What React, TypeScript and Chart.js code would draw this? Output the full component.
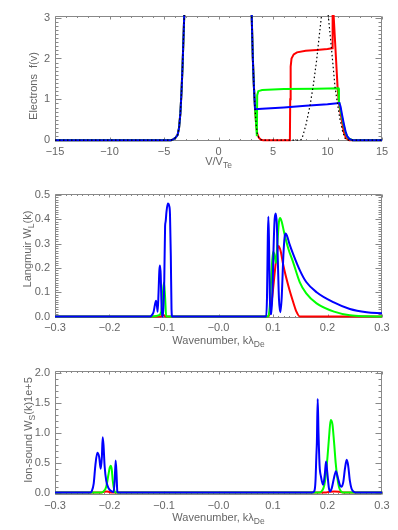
import React, { useEffect, useRef } from 'react';
import { Chart, registerables } from 'chart.js';

Chart.register(...registerables);

type Pt = [number, number];

// ---------- Panel 1: electron distribution f(v) vs V/VTe ----------
const vTicks = [-15, -10, -5, 0, 5, 10, 15];
const vTickLabels = ['−15', '−10', '−5', '0', '5', '10', '15'];
const fTicks = [0, 1, 2, 3];
const fTickLabels = ['0', '1', '2', '3'];

// Maxwellian core (shared by all curves), up to the right-hand flank
const coreF: Pt[] = [
  [-15, 0], [-4.35, 0], [-4.15, 0.02], [-3.95, 0.06], [-3.75, 0.13], [-3.62, 0.3],
  [-3.5, 0.65], [-3.4, 1.15], [-3.3, 1.8], [-3.2, 2.6], [-3.1, 3.4], [-2.9, 5.0],
  [-2.4, 9.5], [0, 20], [2.4, 9.5], [2.9, 5.0],
];
const blueBeamF: Pt[] = [
  [3.05, 3.0], [3.15, 2.0], [3.25, 1.3], [3.35, 0.76], [4, 0.77], [6, 0.8], [8, 0.84],
  [10, 0.88], [11.1, 0.91], [11.2, 0.82], [11.35, 0.6], [11.5, 0.4], [11.65, 0.22],
  [11.8, 0.1], [12.0, 0.03], [12.3, 0], [15, 0],
];
const greenBeamF: Pt[] = [
  [3.05, 3.0], [3.15, 2.0], [3.25, 1.3], [3.35, 0.8], [3.45, 0.4], [3.52, 0.1], [3.55, 1.1],
  [3.65, 1.2], [4, 1.23], [6, 1.25], [9, 1.26], [11.0, 1.27], [11.05, 0.95], [11.3, 0.6],
  [11.5, 0.35], [11.7, 0.15], [11.9, 0.05], [12.3, 0], [15, 0],
];
const redBeamF: Pt[] = [
  [3.05, 3.0], [3.15, 2.0], [3.25, 1.3], [3.35, 0.8], [3.45, 0.4], [3.55, 0.17], [3.7, 0.06],
  [3.9, 0.01], [4.1, 0], [6.55, 0], [6.58, 1.0], [6.62, 1.8], [6.7, 2.0], [6.9, 2.1],
  [7.2, 2.15], [8, 2.19], [9, 2.21], [10, 2.23], [10.42, 2.25], [10.47, 3.5], [10.93, 1.27],
  [11.05, 0.9], [11.3, 0.5], [11.5, 0.2], [11.7, 0.05], [12, 0], [15, 0],
];
const initialBeamF: Pt[] = [
  [3.05, 3.0], [3.15, 2.0], [3.25, 1.3], [3.35, 0.8], [3.45, 0.4], [3.55, 0.17], [3.7, 0.06],
  [3.9, 0.01], [4.1, 0], [7.5, 0], [7.65, 0.03], [8.0, 0.35], [8.4, 0.85], [8.7, 1.35],
  [9.0, 1.95], [9.2, 2.45], [9.45, 3.05], [9.75, 3.8], [10.07, 3.05], [10.38, 2.2],
  [10.69, 1.3], [11.0, 0.75], [11.15, 0.5], [11.4, 0.2], [11.6, 0.05], [11.8, 0], [15, 0],
];

// ---------- Panel 2: Langmuir spectrum W_L(k) ----------
const kTicks = [-0.3, -0.2, -0.1, 0, 0.1, 0.2, 0.3];
const kTickLabels = ['−0.3', '−0.2', '−0.1', '−0.0', '0.1', '0.2', '0.3'];
const wlTicks = [0, 0.1, 0.2, 0.3, 0.4, 0.5];
const wlTickLabels = ['0.0', '0.1', '0.2', '0.3', '0.4', '0.5'];

const blueWL: Pt[] = [
  [-0.3, 0], [-0.125, 0], [-0.1226, 0.005], [-0.119, 0.02], [-0.1165, 0.05], [-0.1147, 0.065],
  [-0.113, 0.045], [-0.1116, 0.02], [-0.11, 0.1], [-0.1085, 0.19], [-0.1073, 0.21],
  [-0.106, 0.17], [-0.1045, 0.04], [-0.103, 0], [-0.1015, 0], [-0.0995, 0.15], [-0.098, 0.37],
  [-0.097, 0.39], [-0.0955, 0.43], [-0.093, 0.465], [-0.0905, 0.455], [-0.089, 0.42],
  [-0.0875, 0.25], [-0.0862, 0.03], [-0.085, 0], [0.0875, 0], [0.089, 0.08], [0.0905, 0.33],
  [0.0915, 0.41], [0.0925, 0.33], [0.094, 0.1], [0.0955, 0.01], [0.097, 0.01], [0.099, 0.1],
  [0.101, 0.28], [0.103, 0.4], [0.105, 0.424], [0.107, 0.38], [0.109, 0.22], [0.111, 0.07],
  [0.1135, 0.018], [0.116, 0.08], [0.119, 0.25], [0.1215, 0.33], [0.1233, 0.342],
  [0.126, 0.33], [0.13, 0.3], [0.137, 0.257], [0.1495, 0.189], [0.161, 0.142], [0.18, 0.1],
  [0.2107, 0.059], [0.241, 0.031], [0.272, 0.018], [0.3, 0.014],
];
const greenWL: Pt[] = [
  [-0.3, 0], [-0.122, 0], [-0.11, 0.005], [-0.105, 0.02], [-0.102, 0.1], [-0.1, 0.14],
  [-0.098, 0.08], [-0.096, 0], [0.091, 0], [0.094, 0.04], [0.097, 0.17], [0.1, 0.265],
  [0.102, 0.26], [0.1055, 0.22], [0.108, 0.3], [0.111, 0.39], [0.113, 0.405], [0.116, 0.39],
  [0.12, 0.35], [0.128, 0.28], [0.137, 0.223], [0.149, 0.142], [0.161, 0.095], [0.18, 0.054],
  [0.212, 0.02], [0.241, 0.005], [0.27, 0.001], [0.3, 0],
];
const redWL: Pt[] = [
  [-0.3, 0], [-0.106, 0], [-0.103, 0.006], [-0.1, 0.005], [-0.097, 0], [0.091, 0],
  [0.095, 0.02], [0.1, 0.11], [0.105, 0.22], [0.11, 0.29], [0.114, 0.27], [0.119, 0.21],
  [0.128, 0.128], [0.137, 0.06], [0.143, 0.02], [0.149, 0], [0.3, 0],
];

// ---------- Panel 3: ion-sound spectrum W_S(k) x 1e5 ----------
const wsTicks = [0, 0.5, 1.0, 1.5, 2.0];
const wsTickLabels = ['0.0', '0.5', '1.0', '1.5', '2.0'];

const blueWS: Pt[] = [
  [-0.3, 0], [-0.235, 0], [-0.2327, 0.02], [-0.229, 0.15], [-0.226, 0.45], [-0.2224, 0.67],
  [-0.219, 0.6], [-0.2162, 0.4], [-0.214, 0.6], [-0.2125, 0.93], [-0.211, 0.8], [-0.209, 0.45],
  [-0.206, 0.2], [-0.203, 0.1], [-0.2, 0.05], [-0.196, 0.02], [-0.1925, 0.01], [-0.1905, 0.2],
  [-0.1887, 0.54], [-0.187, 0.3], [-0.1857, 0.02], [-0.184, 0], [0.172, 0], [0.176, 0.03],
  [0.178, 0.2], [0.1795, 0.6], [0.1805, 0.84], [0.182, 1.57], [0.1835, 1.0], [0.1855, 0.45],
  [0.188, 0.27], [0.192, 0.13], [0.195, 0.3], [0.1973, 0.52], [0.1995, 0.35], [0.2025, 0.08],
  [0.2046, 0.02], [0.208, 0.08], [0.212, 0.25], [0.2156, 0.36], [0.219, 0.25], [0.223, 0.12],
  [0.226, 0.1], [0.229, 0.18], [0.232, 0.4], [0.2352, 0.55], [0.238, 0.45], [0.241, 0.2],
  [0.244, 0.07], [0.2474, 0.02], [0.253, 0], [0.3, 0],
];
const greenWS: Pt[] = [
  [-0.3, 0], [-0.215, 0], [-0.211, 0.02], [-0.206, 0.1], [-0.202, 0.3], [-0.1995, 0.42],
  [-0.1979, 0.45], [-0.196, 0.4], [-0.194, 0.2], [-0.1915, 0.05], [-0.189, 0], [0.185, 0],
  [0.19, 0.03], [0.194, 0.12], [0.197, 0.3], [0.2, 0.6], [0.203, 0.95], [0.2058, 1.22],
  [0.209, 1.15], [0.212, 0.85], [0.215, 0.5], [0.218, 0.25], [0.221, 0.1], [0.224, 0.03],
  [0.228, 0], [0.3, 0],
];
const redWS: Pt[] = [
  [-0.3, 0], [-0.216, 0], [-0.21, 0.015], [-0.205, 0.02], [-0.2, 0.01], [-0.196, 0],
  [0.196, 0], [0.203, 0.015], [0.213, 0.02], [0.223, 0.012], [0.232, 0], [0.3, 0],
];

// ---------- styling ----------
const FONT = "'Liberation Sans', Arial, sans-serif";
const TEXT = '#666';
const FRAME = '#888';
const W = 398;

type Part = { t: string; sub?: boolean };

interface PanelCfg {
  top: number;
  height: number;
  padTop: number;
  xAxisH: number;
  xMin: number; xMax: number; xTicks: number[]; xLabels: string[]; xMinor: number;
  yMin: number; yMax: number; yTicks: number[]; yLabels: string[]; yMinor: number;
  xTitle: Part[]; xTitleY: number;
  yTitle: Part[]; yTitleX: number; yTitleY: number;
  labelPadX: number;
  smooth: boolean;
  datasets: { data: Pt[]; color: string; dash?: number[]; width?: number }[];
}

function drawRich(ctx: CanvasRenderingContext2D, parts: Part[], cx: number, cy: number, rot: number) {
  const main = `11px ${FONT}`;
  const small = `8.5px ${FONT}`;
  let total = 0;
  const widths = parts.map((p) => {
    ctx.font = p.sub ? small : main;
    const w = ctx.measureText(p.t).width;
    total += w;
    return w;
  });
  ctx.save();
  ctx.translate(cx, cy);
  ctx.rotate(rot);
  ctx.fillStyle = TEXT;
  ctx.textBaseline = 'middle';
  ctx.textAlign = 'left';
  let x = -total / 2;
  parts.forEach((p, i) => {
    ctx.font = p.sub ? small : main;
    ctx.fillText(p.t, x, p.sub ? 4 : 0);
    x += widths[i];
  });
  ctx.restore();
}

function makeFramePlugin(cfg: PanelCfg) {
  return {
    id: 'idlFrame',
    beforeDatasetsDraw(chart: any) {
      const { ctx, chartArea: a, scales } = chart;
      const xs = scales.x;
      const ys = scales.y;
      ctx.save();
      ctx.strokeStyle = FRAME;
      ctx.lineWidth = 1;
      const L = Math.round(a.left) + 0.5;
      const R = Math.round(a.right) - 0.5;
      const T = Math.round(a.top) + 0.5;
      const B = Math.round(a.bottom) - 0.5;
      ctx.beginPath();
      ctx.rect(L, T, R - L, B - T);
      const isMajor = (v: number, arr: number[]) => arr.some((m) => Math.abs(m - v) < 1e-9);
      // x ticks (bottom and top, inward)
      const nx = Math.round((cfg.xMax - cfg.xMin) / cfg.xMinor);
      for (let i = 0; i <= nx; i++) {
        const v = +(cfg.xMin + i * cfg.xMinor).toFixed(6);
        const len = isMajor(v, cfg.xTicks) ? 3 : 1.5;
        const p = Math.round(xs.getPixelForValue(v)) + 0.5;
        ctx.moveTo(p, B); ctx.lineTo(p, B - len);
        ctx.moveTo(p, T); ctx.lineTo(p, T + len);
      }
      // y ticks (left and right, inward)
      const start = Math.ceil(cfg.yMin / cfg.yMinor - 1e-9);
      const end = Math.floor(cfg.yMax / cfg.yMinor + 1e-9);
      for (let i = start; i <= end; i++) {
        const v = +(i * cfg.yMinor).toFixed(6);
        const len = isMajor(v, cfg.yTicks) ? 6 : 3;
        const p = Math.round(ys.getPixelForValue(v)) + 0.5;
        ctx.moveTo(L, p); ctx.lineTo(L + len, p);
        ctx.moveTo(R, p); ctx.lineTo(R - len, p);
      }
      ctx.stroke();
      ctx.restore();
    },
    afterDraw(chart: any) {
      const { ctx, chartArea: a } = chart;
      drawRich(ctx, cfg.xTitle, (a.left + a.right) / 2, cfg.xTitleY, 0);
      drawRich(ctx, cfg.yTitle, cfg.yTitleX, cfg.yTitleY, -Math.PI / 2);
    },
  };
}

function buildChart(canvas: HTMLCanvasElement, cfg: PanelCfg) {
  const tickFont = { family: FONT, size: 11 };
  return new Chart(canvas, {
    type: 'line',
    data: {
      datasets: cfg.datasets.map((d) => ({
        data: d.data.map(([x, y]) => ({ x, y })),
        borderColor: d.color,
        backgroundColor: d.color,
        borderWidth: d.width ?? 2,
        borderDash: d.dash ?? [],
        pointRadius: 0,
        fill: false,
        tension: 0,
        cubicInterpolationMode: cfg.smooth ? 'monotone' : 'default',
        clip: 1,
      })),
    },
    options: {
      animation: false,
      responsive: false,
      maintainAspectRatio: false,
      devicePixelRatio: 1,
      parsing: false,
      layout: { padding: { left: 0, right: 16, top: cfg.padTop, bottom: 0 } },
      plugins: { legend: { display: false }, tooltip: { enabled: false }, title: { display: false } },
      scales: {
        x: {
          type: 'linear',
          min: cfg.xMin,
          max: cfg.xMax,
          grid: { display: false, drawTicks: false },
          border: { display: false },
          afterBuildTicks: (s: any) => { s.ticks = cfg.xTicks.map((v) => ({ value: v })); },
          afterFit: (s: any) => { s.height = cfg.xAxisH; },
          ticks: {
            autoSkip: false,
            maxRotation: 0,
            padding: cfg.labelPadX,
            color: TEXT,
            font: tickFont,
            callback: (_v: any, i: number) => cfg.xLabels[i],
          },
        },
        y: {
          type: 'linear',
          min: cfg.yMin,
          max: cfg.yMax,
          grid: { display: false, drawTicks: false },
          border: { display: false },
          afterBuildTicks: (s: any) => { s.ticks = cfg.yTicks.map((v) => ({ value: v })); },
          afterFit: (s: any) => { s.width = 55; },
          ticks: {
            autoSkip: false,
            padding: 5,
            color: TEXT,
            font: tickFont,
            callback: (_v: any, i: number) => cfg.yLabels[i],
          },
        },
      },
    } as any,
    plugins: [makeFramePlugin(cfg)],
  });
}

const panels: PanelCfg[] = [
  {
    top: 0, height: 177, padTop: 16, xAxisH: 36,
    xMin: -15, xMax: 15, xTicks: vTicks, xLabels: vTickLabels, xMinor: 1,
    yMin: -0.02, yMax: 3.04, yTicks: fTicks, yLabels: fTickLabels, yMinor: 0.1,
    xTitle: [{ t: 'V/V' }, { t: 'Te', sub: true }], xTitleY: 162,
    yTitle: [{ t: 'Electrons  f(v)' }], yTitleX: 34, yTitleY: 86,
    labelPadX: 4, smooth: false,
    datasets: [
      { data: [...coreF, ...initialBeamF], color: '#000000', dash: [1.5, 2.5], width: 1.2 },
      { data: [...coreF, ...blueBeamF], color: '#0000ff' },
      { data: [...coreF, ...greenBeamF], color: '#00ff00' },
      { data: [...coreF, ...redBeamF], color: '#ff0000' },
    ],
  },
  {
    top: 177, height: 177, padTop: 17, xAxisH: 36,
    xMin: -0.3, xMax: 0.3, xTicks: kTicks, xLabels: kTickLabels, xMinor: 0.01,
    yMin: -0.006, yMax: 0.504, yTicks: wlTicks, yLabels: wlTickLabels, yMinor: 0.01,
    xTitle: [{ t: 'Wavenumber, kλ' }, { t: 'De', sub: true }], xTitleY: 164,
    yTitle: [{ t: 'Langmuir W' }, { t: 'L', sub: true }, { t: '(k)' }], yTitleX: 28, yTitleY: 72,
    labelPadX: 3, smooth: true,
    datasets: [
      { data: blueWL, color: '#0000ff' },
      { data: greenWL, color: '#00ff00' },
      { data: redWL, color: '#ff0000' },
    ],
  },
  {
    top: 354, height: 176, padTop: 17, xAxisH: 35,
    xMin: -0.3, xMax: 0.3, xTicks: kTicks, xLabels: kTickLabels, xMinor: 0.01,
    yMin: -0.04, yMax: 2.04, yTicks: wsTicks, yLabels: wsTickLabels, yMinor: 0.1,
    xTitle: [{ t: 'Wavenumber, kλ' }, { t: 'De', sub: true }], xTitleY: 164,
    yTitle: [{ t: 'Ion-sound W' }, { t: 'S', sub: true }, { t: '(k)1e+5' }], yTitleX: 29, yTitleY: 76,
    labelPadX: 4, smooth: true,
    datasets: [
      { data: blueWS, color: '#0000ff' },
      { data: greenWS, color: '#00ff00' },
      { data: redWS, color: '#ff0000' },
    ],
  },
];

export default function App() {
  const refs = [useRef<HTMLCanvasElement>(null), useRef<HTMLCanvasElement>(null), useRef<HTMLCanvasElement>(null)];
  useEffect(() => {
    const charts = panels.map((p, i) => buildChart(refs[i].current as HTMLCanvasElement, p));
    return () => charts.forEach((c) => c.destroy());
  }, []);
  return (
    <div style={{ position: 'absolute', left: 0, top: 0, width: W, height: 530, background: '#fff' }}>
      {panels.map((p, i) => (
        <canvas
          key={i}
          ref={refs[i]}
          width={W}
          height={p.height}
          style={{ position: 'absolute', left: 0, top: p.top, width: W, height: p.height, display: 'block' }}
        />
      ))}
    </div>
  );
}
